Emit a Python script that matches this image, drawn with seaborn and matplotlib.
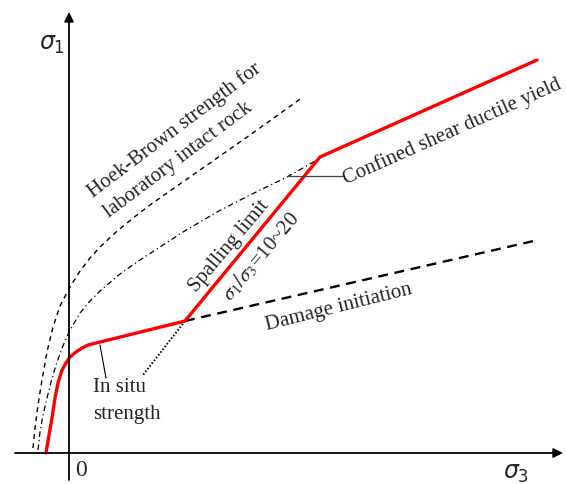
import matplotlib
matplotlib.use("Agg")
import matplotlib.pyplot as plt
import seaborn as sns

# ---- data (schematic units) ----
red_x = [-23, -20, -17, -14, -11, -7, -3, 1, 7, 13, 19, 116, 251, 468]
red_y = [0, 18, 35, 55, 70, 83, 90, 96, 101, 105, 108, 132, 296, 393]

hb_x = [-36, -34, -31, -27, -22, -16, -9, 1, 11, 21, 31, 46, 64, 81, 98, 141, 181, 234]
hb_y = [5, 25, 48, 73, 101, 126, 147, 166, 182, 195, 206, 220, 235, 248, 260, 290, 318, 356]

dd_x = [-31, -29, -26, -22, -18, -13, -7, 1, 11, 21, 31, 51, 71, 91, 114, 148, 181, 218, 248]
dd_y = [3, 21, 38, 55, 71, 88, 105, 123, 140, 152, 162, 179, 193, 206, 221, 241, 258, 276, 293]

dmg_x = [116, 469]
dmg_y = [132, 213]

dot_x = [116, 74]
dot_y = [132, 78]

sns.set_theme(style="white")
plt.rcParams['font.family'] = ['Liberation Serif', 'DejaVu Serif']
plt.rcParams['mathtext.fontset'] = 'stix'

fig = plt.figure(figsize=(5.66, 4.84), dpi=100)
ax = fig.add_axes([0, 0, 1, 1])
ax.set_xlim(-69, 497)
ax.set_ylim(-31, 453)
ax.axis('off')

# axes arrows
ax.annotate('', xy=(494, 0), xytext=(-54, 0),
            arrowprops=dict(arrowstyle='-|>', lw=1.3, color='black', mutation_scale=14, shrinkA=0, shrinkB=0))
ax.annotate('', xy=(0, 441), xytext=(0, -27),
            arrowprops=dict(arrowstyle='-|>', lw=1.3, color='black', mutation_scale=14, shrinkA=0, shrinkB=0))

sns.lineplot(x=hb_x, y=hb_y, sort=False, estimator=None, ax=ax, color='black', lw=1.0)
ax.lines[-1].set_dashes((3.5, 3))
sns.lineplot(x=dd_x, y=dd_y, sort=False, estimator=None, ax=ax, color='black', lw=0.9)
ax.lines[-1].set_dashes((4.5, 2.5, 1, 2.5))
sns.lineplot(x=dmg_x, y=dmg_y, sort=False, estimator=None, ax=ax, color='black', lw=1.7)
ax.lines[-1].set_dashes((4.2, 2.8))
sns.lineplot(x=dot_x, y=dot_y, sort=False, estimator=None, ax=ax, color='black', lw=1.4)
ax.lines[-1].set_dashes((0.8, 1.0))
sns.lineplot(x=red_x, y=red_y, sort=False, estimator=None, ax=ax, color='#ff0000', lw=2.4)
ax.lines[-1].set_solid_joinstyle('round')

# leader lines
ax.plot([31, 37], [108, 75], color='black', lw=0.8)
ax.plot([218, 273], [277, 277], color='#444444', lw=0.9)

fs = 15
ax.text(24, 65, 'In situ', fontsize=fs, ha='left', va='center')
ax.text(24, 38, 'strength', fontsize=fs, ha='left', va='center')
ax.text(106, 323, 'Hoek-Brown strength for', fontsize=fs, ha='center', va='center',
        rotation=37, rotation_mode='anchor')
ax.text(109, 293, 'laboratory intact rock', fontsize=fs, ha='center', va='center',
        rotation=37, rotation_mode='anchor')
ax.text(383, 321, 'Confined shear ductile yield', fontsize=fs, ha='center', va='center',
        rotation=24, rotation_mode='anchor')
ax.text(160, 207, 'Spalling limit', fontsize=fs, ha='center', va='center',
        rotation=50, rotation_mode='anchor')
ax.text(192, 197, r'$\sigma_1/\sigma_3$=10~20', fontsize=fs, ha='center', va='center',
        rotation=50, rotation_mode='anchor')
ax.text(270, 145, 'Damage initiation', fontsize=fs, ha='center', va='center',
        rotation=14, rotation_mode='anchor')

ax.text(12, -18, '0', fontsize=17, ha='center', va='center')
ax.text(-17, 408, r'$\sigma_1$', fontsize=17, ha='center', va='center',
        math_fontfamily='dejavusans')
ax.text(447, -21, r'$\sigma_3$', fontsize=17, ha='center', va='center',
        math_fontfamily='dejavusans')

fig.savefig('out.png', dpi=100)
